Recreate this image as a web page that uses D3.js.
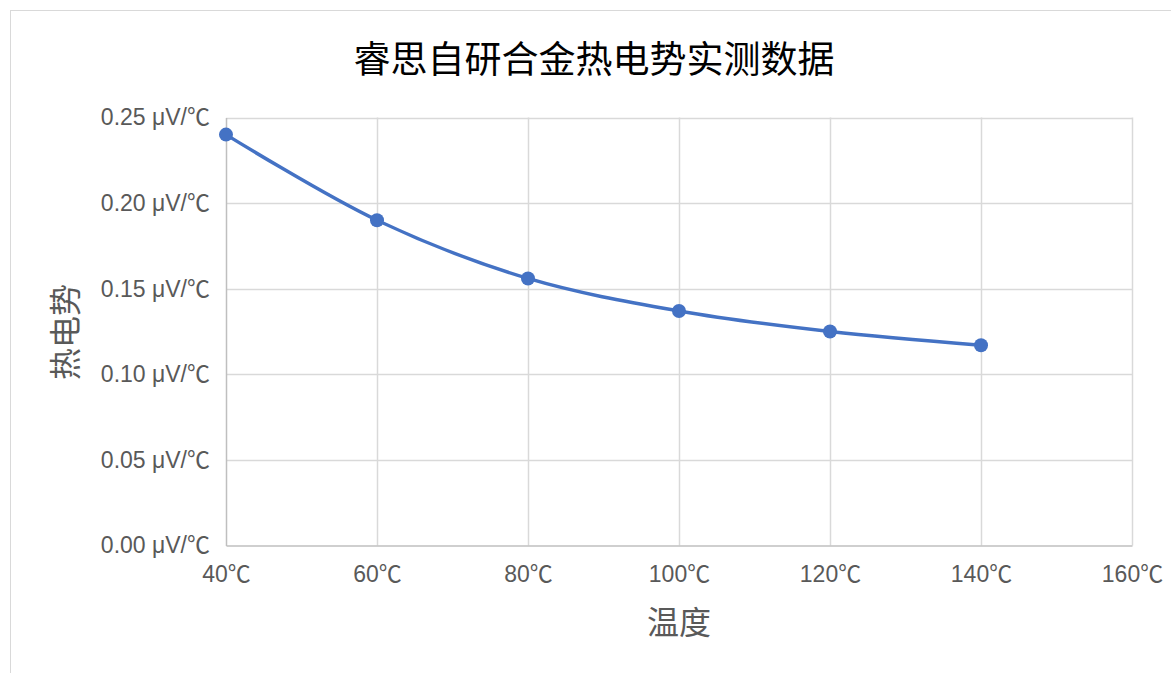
<!DOCTYPE html>
<html>
<head>
<meta charset="utf-8">
<script src="https://cdn.jsdelivr.net/npm/d3@7/dist/d3.min.js"></script>
<style>
  html, body { margin: 0; padding: 0; background: #ffffff; }
  svg { display: block; }
</style>
</head>
<body>
<svg id="chart" width="1171" height="673"></svg>
<script>
// Measured thermoelectric power of the alloy at each temperature
const temperatures = [40, 60, 80, 100, 120, 140];
const thermoPower = [0.24, 0.19, 0.156, 0.137, 0.125, 0.117];

const xTicks = [40, 60, 80, 100, 120, 140, 160];
const yTicks = [0, 0.05, 0.10, 0.15, 0.20, 0.25];

const titleText = "睿思自研合金热电势实测数据";
const xTitle = "温度";
const yTitle = "热电势";

const W = 1171, H = 673;
const plot = { left: 226, right: 1132, top: 117.5, bottom: 545.5 };

const svg = d3.select("#chart");
const cjk = "'Noto Sans CJK SC', 'Noto Sans', sans-serif";
const latin = "'Liberation Sans', Arial, 'Noto Sans CJK SC', sans-serif";

// chart frame
svg.append("rect")
  .attr("x", 10.5).attr("y", 10.5)
  .attr("width", W + 20).attr("height", H + 20)
  .attr("fill", "#ffffff")
  .attr("stroke", "#d9d9d9").attr("stroke-width", 1);

const x = d3.scaleLinear().domain([40, 160]).range([plot.left, plot.right]);
const y = d3.scaleLinear().domain([0, 0.25]).range([plot.bottom, plot.top]);

// gridlines
const grid = svg.append("g");
grid.selectAll("line.h").data(yTicks.filter(d => d > 0)).enter().append("line")
  .attr("x1", plot.left).attr("x2", plot.right)
  .attr("y1", d => Math.round(y(d)) + 0.5).attr("y2", d => Math.round(y(d)) + 0.5)
  .attr("stroke", "#d9d9d9").attr("stroke-width", 1.5);
grid.selectAll("line.v").data(xTicks.filter(d => d > 40)).enter().append("line")
  .attr("y1", plot.top).attr("y2", plot.bottom)
  .attr("x1", d => Math.round(x(d)) + 0.5).attr("x2", d => Math.round(x(d)) + 0.5)
  .attr("stroke", "#d9d9d9").attr("stroke-width", 1.5);

// axes
const fmtY = d => d3.format(".2f")(d) + " μV/℃";
const fmtX = d => d + "℃";

const yAxis = svg.append("g")
  .attr("transform", `translate(${plot.left},0)`)
  .call(d3.axisLeft(y).tickValues(yTicks).tickFormat(fmtY).tickSize(0).tickPadding(16));
yAxis.select(".domain").attr("stroke", "#bfbfbf").attr("stroke-width", 1.5);
yAxis.selectAll("text")
  .attr("fill", "#595959").style("font-family", latin).style("font-size", "23px");

const xAxis = svg.append("g")
  .attr("transform", `translate(0,${plot.bottom})`)
  .call(d3.axisBottom(x).tickValues(xTicks).tickFormat(fmtX).tickSize(0).tickPadding(20));
xAxis.select(".domain").attr("stroke", "#bfbfbf").attr("stroke-width", 1.5);
xAxis.selectAll("text")
  .attr("fill", "#595959").style("font-family", latin).style("font-size", "23px");

// series line and markers
const pts = temperatures.map((t, i) => [t, thermoPower[i]]);
const line = d3.line()
  .x(d => x(d[0])).y(d => y(d[1]))
  .curve(d3.curveCatmullRom.alpha(0.5));

svg.append("path")
  .datum(pts)
  .attr("d", line)
  .attr("fill", "none")
  .attr("stroke", "#4472c4")
  .attr("stroke-width", 3.5)
  .attr("stroke-linecap", "round");

svg.selectAll("circle.pt").data(pts).enter().append("circle")
  .attr("class", "pt")
  .attr("cx", d => x(d[0])).attr("cy", d => y(d[1]))
  .attr("r", 7)
  .attr("fill", "#4472c4");

// titles
svg.append("text")
  .attr("x", 594).attr("y", 57)
  .attr("text-anchor", "middle").attr("dominant-baseline", "central")
  .style("font-family", cjk).style("font-size", "37px").attr("fill", "#000000")
  .text(titleText);

svg.append("text")
  .attr("x", 679).attr("y", 620)
  .attr("text-anchor", "middle").attr("dominant-baseline", "central")
  .style("font-family", cjk).style("font-size", "32px").attr("fill", "#595959")
  .text(xTitle);

svg.append("text")
  .attr("transform", "translate(63,332) rotate(-90)")
  .attr("text-anchor", "middle").attr("dominant-baseline", "central")
  .style("font-family", cjk).style("font-size", "32px").attr("fill", "#595959")
  .text(yTitle);
</script>
</body>
</html>
